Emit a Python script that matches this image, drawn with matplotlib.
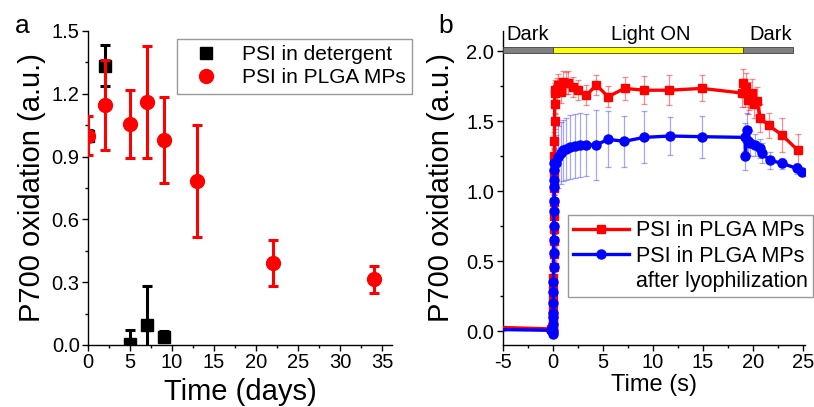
import matplotlib
matplotlib.use('Agg')
import matplotlib.pyplot as plt
from matplotlib.lines import Line2D
from matplotlib.patches import Rectangle
from matplotlib.ticker import MultipleLocator

plt.rcParams['font.family'] = ['Liberation Sans', 'DejaVu Sans']
plt.rcParams['axes.unicode_minus'] = False

# ---------------- Panel a data ----------------
det_days = [0, 2, 5, 7, 9]
det_val = [1.00, 1.335, 0.005, 0.095, 0.04]
det_err = [0.025, 0.10, 0.065, 0.186, 0.025]

mp_days = [0, 2, 5, 7, 9, 13, 22, 34]
mp_val = [1.00, 1.145, 1.055, 1.16, 0.98, 0.785, 0.39, 0.314]
mp_err = [0.093, 0.215, 0.162, 0.267, 0.207, 0.268, 0.11, 0.064]

# ---------------- Panel b data ----------------
red_t = [-5, -0.2,
         0.00, 0.01, 0.02, 0.03, 0.04, 0.05, 0.06, 0.07, 0.08, 0.09, 0.10,
         0.11, 0.12, 0.13, 0.14, 0.15, 0.16, 0.17, 0.18, 0.19, 0.20,
         0.25, 0.40, 0.56, 0.80, 1.06, 1.30, 1.55, 2.05, 2.54, 3.37, 4.37,
         5.52, 7.17, 9.16, 11.64, 14.9, 18.9, 19.05, 19.2, 19.35, 19.5,
         19.65, 19.9, 20.1, 20.4, 20.74, 21.56, 22.9, 24.5]
red_v = [0.025, 0.015,
         0.00, 0.02, 0.05, 0.10, 0.16, 0.23, 0.30, 0.38, 0.46, 0.55, 0.64,
         0.73, 0.82, 0.92, 1.02, 1.13, 1.25, 1.36, 1.50, 1.62, 1.70,
         1.72, 1.73, 1.757, 1.71, 1.78, 1.77, 1.774, 1.745, 1.72, 1.686, 1.757,
         1.674, 1.733, 1.72, 1.72, 1.733, 1.70, 1.77, 1.70, 1.74, 1.65,
         1.68, 1.70, 1.62, 1.64, 1.52, 1.47, 1.40, 1.29]
red_e = [0.01, 0.01,
         0.02, 0.02, 0.02, 0.03, 0.03, 0.03, 0.03, 0.03, 0.04, 0.04, 0.04,
         0.04, 0.05, 0.05, 0.05, 0.05, 0.06, 0.06, 0.06, 0.07, 0.07,
         0.07, 0.08, 0.08, 0.08, 0.08, 0.08, 0.08, 0.07, 0.07, 0.07, 0.07,
         0.077, 0.08, 0.10, 0.107, 0.093, 0.10, 0.10, 0.10, 0.10, 0.10,
         0.10, 0.10, 0.10, 0.10, 0.10, 0.09, 0.12, 0.12]

blue_t = [-5, -0.2,
          0.00, 0.01, 0.02, 0.03, 0.04, 0.05, 0.06, 0.07, 0.08, 0.09,
          0.10, 0.11, 0.12, 0.13, 0.14, 0.15, 0.16, 0.17,
          0.30, 0.53, 0.80, 1.05, 1.35, 1.72, 2.20, 2.71, 3.37, 4.37,
          5.52, 7.15, 9.13, 11.7, 14.9, 19.2, 19.25, 19.4, 19.5, 19.75,
          20.2, 20.74, 20.9, 21.66, 22.9, 24.37, 24.87]
blue_v = [0.01, 0.005,
          -0.02, 0.00, 0.05, 0.10, 0.13, 0.20, 0.28, 0.35, 0.46, 0.56,
          0.65, 0.75, 0.86, 0.93, 1.03, 1.08, 1.15, 1.20,
          1.20, 1.245, 1.27, 1.29, 1.30, 1.316, 1.322, 1.329, 1.329, 1.33,
          1.369, 1.355, 1.383, 1.393, 1.388, 1.383, 1.25, 1.436, 1.36, 1.34,
          1.33, 1.305, 1.27, 1.22, 1.198, 1.162, 1.138]
blue_e = [0.01, 0.01,
          0.02, 0.02, 0.02, 0.02, 0.02, 0.03, 0.03, 0.03, 0.03, 0.03,
          0.04, 0.04, 0.05, 0.06, 0.08, 0.10, 0.14, 0.18,
          0.20, 0.22, 0.22, 0.22, 0.22, 0.23, 0.23, 0.23, 0.22, 0.25,
          0.20, 0.18, 0.185, 0.135, 0.15, 0.10, 0.10, 0.12, 0.10, 0.09,
          0.08, 0.07, 0.07, 0.06, 0.04, 0.04, 0.02]

# light protocol bar: (start, end, colour) and labels
light_start = [-5, 0, 19]
light_end = [0, 19, 24]
light_color = ['#808080', '#ffff00', '#808080']
light_text = ['Dark', 'Light ON', 'Dark']

fig = plt.figure(figsize=(8.14, 4.07), dpi=100)

W, H = 814, 407
def box(l, r, t, b):
    return [l / W, 1 - b / H, (r - l) / W, (b - t) / H]

# ================= Panel a =================
axa = fig.add_axes(box(88, 392, 31, 345))
axa.errorbar(det_days, det_val, yerr=det_err, fmt='s', color='black',
             ms=8.5, elinewidth=2.2, capsize=3.5, capthick=2.2, zorder=3)
axa.errorbar(mp_days, mp_val, yerr=mp_err, fmt='o', color='#ff0000',
             ms=10, elinewidth=2.2, capsize=3.5, capthick=2.2, zorder=4)
axa.set_xlim(0, 36.2)
axa.set_ylim(0, 1.5)
axa.xaxis.set_major_locator(MultipleLocator(5))
axa.xaxis.set_minor_locator(MultipleLocator(2.5))
axa.yaxis.set_major_locator(MultipleLocator(0.3))
axa.yaxis.set_minor_locator(MultipleLocator(0.15))
axa.yaxis.set_major_formatter(plt.FormatStrFormatter('%.1f'))
axa.set_xlabel('Time (days)', fontsize=21, labelpad=4)
axa.set_ylabel('P700 oxidation (a.u.)', fontsize=21, labelpad=4)
handles_a = [Line2D([], [], marker='s', color='black', ls='none', ms=8.5),
             Line2D([], [], marker='o', color='#ff0000', ls='none', ms=10)]
lega = axa.legend(handles_a, ['PSI in detergent', 'PSI in PLGA MPs'],
                  loc='upper left', bbox_to_anchor=(177 / W, 1 - 39 / H),
                  bbox_transform=fig.transFigure, fontsize=15, frameon=True,
                  fancybox=False, edgecolor='#808080', borderpad=0.3,
                  handlelength=2.2, handletextpad=0.6, borderaxespad=0,
                  labelspacing=0.2)
lega.get_frame().set_linewidth(1.0)

# ================= Panel b =================
axb = fig.add_axes(box(502.7, 805, 31, 345))
axb.errorbar(red_t, red_v, yerr=red_e, fmt='none', ecolor='#ff0000',
             alpha=0.45, elinewidth=0.9, capsize=2.5, capthick=0.9, zorder=2)
axb.errorbar(blue_t, blue_v, yerr=blue_e, fmt='none', ecolor='#0000ff',
             alpha=0.35, elinewidth=0.9, capsize=2.5, capthick=0.9, zorder=2)
axb.plot(red_t, red_v, color='#ff0000', lw=2.4, marker='s', ms=6,
         markevery=list(range(1, len(red_t))), zorder=3)
axb.plot(blue_t, blue_v, color='#0000ff', lw=2.4, marker='o', ms=6.5,
         markevery=list(range(1, len(blue_t))), zorder=4)

for s, e, c in zip(light_start, light_end, light_color):
    axb.add_patch(Rectangle((s, 1.985), e - s, 0.045, facecolor=c,
                            edgecolor='#404040', lw=0.6, zorder=5))
axb.text(-4.6, 2.05, light_text[0], fontsize=14.5, ha='left', va='bottom')
axb.text(9.8, 2.05, light_text[1], fontsize=14.5, ha='center', va='bottom')
axb.text(23.9, 2.05, light_text[2], fontsize=14.5, ha='right', va='bottom')

axb.set_xlim(-5, 25.2)
axb.set_ylim(-0.1, 2.143)
axb.xaxis.set_major_locator(MultipleLocator(5))
axb.xaxis.set_minor_locator(MultipleLocator(2.5))
axb.yaxis.set_major_locator(MultipleLocator(0.5))
axb.yaxis.set_minor_locator(MultipleLocator(0.25))
axb.yaxis.set_major_formatter(plt.FormatStrFormatter('%.1f'))
axb.set_xlabel('Time (s)', fontsize=17, labelpad=1)
axb.set_ylabel('P700 oxidation (a.u.)', fontsize=21, labelpad=8)

handles_b = [Line2D([], [], color='#ff0000', lw=2.4, marker='s', ms=6),
             Line2D([], [], color='#0000ff', lw=2.4, marker='o', ms=6.5),
             Line2D([], [], color='none', lw=0)]
legb = axb.legend(handles_b, ['PSI in PLGA MPs', 'PSI in PLGA MPs',
                              'after lyophilization'],
                  loc='upper right', bbox_to_anchor=(813 / W, 1 - 215 / H),
                  bbox_transform=fig.transFigure, fontsize=15.5, frameon=True,
                  fancybox=False, edgecolor='#808080', borderpad=0.25,
                  handlelength=2.6, handletextpad=0.3, borderaxespad=0,
                  labelspacing=0.2)
legb.get_frame().set_linewidth(1.0)

for ax in (axa, axb):
    ax.spines['top'].set_visible(False)
    ax.spines['right'].set_visible(False)
    for sp in ('left', 'bottom'):
        ax.spines[sp].set_linewidth(1.0)
    ax.tick_params(which='major', direction='out', length=4, width=1,
                   labelsize=14.5, pad=2)
    ax.tick_params(which='minor', direction='out', length=2.5, width=1)

fig.text(15 / W, 1 - 33 / H, 'a', fontsize=19, ha='left', va='baseline')
fig.text(438 / W, 1 - 33 / H, 'b', fontsize=19, ha='left', va='baseline')

fig.savefig('out.png', dpi=100)
